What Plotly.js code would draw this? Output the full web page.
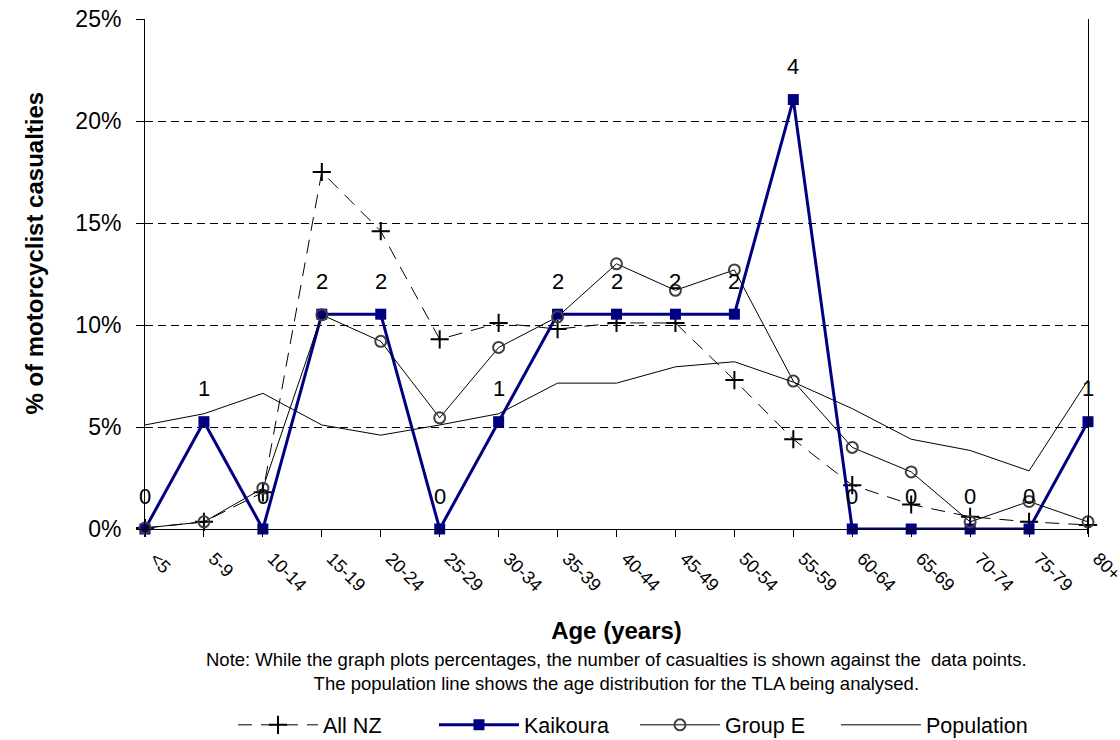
<!DOCTYPE html>
<html>
<head>
<meta charset="utf-8">
<script src="https://cdn.plot.ly/plotly-3.0.1.min.js"></script>
<style>html,body{margin:0;padding:0;background:#fff;}#chart{width:1120px;height:740px;}</style>
</head>
<body>
<div id="chart"></div>
<script>
// Age groups (x categories)
const ageGroups = ["<5","5-9","10-14","15-19","20-24","25-29","30-34","35-39","40-44","45-49","50-54","55-59","60-64","65-69","70-74","75-79","80+"];
// Percent of motorcyclist casualties
const allNZ      = [0.05, 0.35, 1.8, 17.5, 14.6, 9.3, 10.1, 9.8, 10.1, 10.1, 7.3, 4.4, 2.15, 1.2, 0.6, 0.35, 0.2];
const kaikoura   = [0, 5.26, 0, 10.53, 10.53, 0, 5.26, 10.53, 10.53, 10.53, 10.53, 21.05, 0, 0, 0, 0, 5.26];
const groupE     = [0.05, 0.35, 2.0, 10.5, 9.2, 5.45, 8.9, 10.4, 13.0, 11.7, 12.7, 7.25, 4.0, 2.8, 0.35, 1.35, 0.35];
const population = [5.1, 5.65, 6.65, 5.1, 4.6, 5.1, 5.65, 7.15, 7.15, 7.95, 8.2, 7.2, 5.9, 4.4, 3.85, 2.85, 7.3];
// Number of Kaikoura casualties shown against the data points
const kaikouraCounts = [0, 1, 0, 2, 2, 0, 1, 2, 2, 2, 2, 4, 0, 0, 0, 0, 1];
// Y ticks (percent) and their labels
const yTicks = [0, 5, 10, 15, 20, 25];
const yTickLabels = ["0%", "5%", "10%", "15%", "20%", "25%"];
const yGrid = [5, 10, 15, 20];

const FONT = "Liberation Sans, Arial, sans-serif";

const traces = [
  {
    name: "All NZ", x: ageGroups, y: allNZ, type: "scatter", mode: "lines+markers",
    line: {color: "#000", width: 1, dash: "14px,9px"},
    marker: {symbol: "cross-thin", size: 13, line: {color: "#000", width: 2}},
    cliponaxis: false
  },
  {
    name: "Kaikoura", x: ageGroups, y: kaikoura, type: "scatter", mode: "lines+markers",
    line: {color: "#000080", width: 3},
    marker: {symbol: "square", size: 11, color: "#000080"},
    cliponaxis: false
  },
  {
    name: "Group E", x: ageGroups, y: groupE, type: "scatter", mode: "lines+markers",
    line: {color: "#000", width: 1},
    marker: {symbol: "circle-open", size: 11, color: "#404040", line: {color: "#404040", width: 2}},
    cliponaxis: false
  },
  {
    name: "Population", x: ageGroups, y: population, type: "scatter", mode: "lines",
    line: {color: "#000", width: 1},
    cliponaxis: false
  }
];

const annotations = ageGroups.map((g, i) => ({
  x: g, y: kaikoura[i], xref: "x", yref: "y",
  text: String(kaikouraCounts[i]), showarrow: false, yshift: 33,
  font: {family: FONT, size: 22, color: "#000"}
}));

annotations.push({
  xref: "paper", yref: "paper", x: -0.1336, y: 0.541,
  text: "% of motorcyclist casualties", textangle: -90, showarrow: false,
  font: {family: FONT, size: 24, color: "#000", weight: "bold"}
});
annotations.push({
  xref: "paper", yref: "paper", x: 0.5, y: -0.279, yanchor: "middle",
  text: "Note: While the graph plots percentages, the number of casualties is shown against the  data points.<br>The population line shows the age distribution for the TLA being analysed.",
  showarrow: false, align: "center",
  font: {family: FONT, size: 18.5, color: "#000"}
});

const layout = {
  width: 1120, height: 740,
  margin: {l: 145, r: 32, t: 19, b: 211, autoexpand: false},
  paper_bgcolor: "#fff", plot_bgcolor: "#fff",
  font: {family: FONT, color: "#000"},
  showlegend: true,
  legend: {
    orientation: "h", x: 0.0933, xanchor: "left", y: -0.384, yanchor: "middle",
    font: {family: FONT, size: 21.5, color: "#000"}, itemwidth: 80,
    entrywidth: 106, entrywidthmode: "pixels"
  },
  xaxis: {
    type: "category", range: [0, 16], automargin: false,
    showline: true, linecolor: "#000", linewidth: 1,
    ticks: "outside", ticklen: 7, tickcolor: "#000",
    tickangle: 45, tickfont: {family: FONT, size: 18, color: "#000"},
    ticklabelstandoff: 4, ticklabelshift: 10,
    showgrid: false, zeroline: false,
    title: {text: "<b>Age (years)</b>", font: {family: FONT, size: 24, color: "#000"}, standoff: 27}
  },
  yaxis: {
    range: [0, 25], automargin: false, tickmode: "array", tickvals: yTicks, ticktext: yTickLabels,
    showline: true, mirror: true, linecolor: "#000", linewidth: 1,
    ticks: "outside", ticklen: 8, tickcolor: "#000",
    tickfont: {family: FONT, size: 23, color: "#000"},
    ticklabelstandoff: 10,
    showgrid: false, zeroline: false,
    minor: {tickmode: "array", tickvals: yGrid, showgrid: true, gridcolor: "#000", gridwidth: 1, griddash: "8px,5px", ticks: ""}
  },
  annotations: annotations
};

Plotly.newPlot("chart", traces, layout, {staticPlot: true, displayModeBar: false});
</script>
</body>
</html>
